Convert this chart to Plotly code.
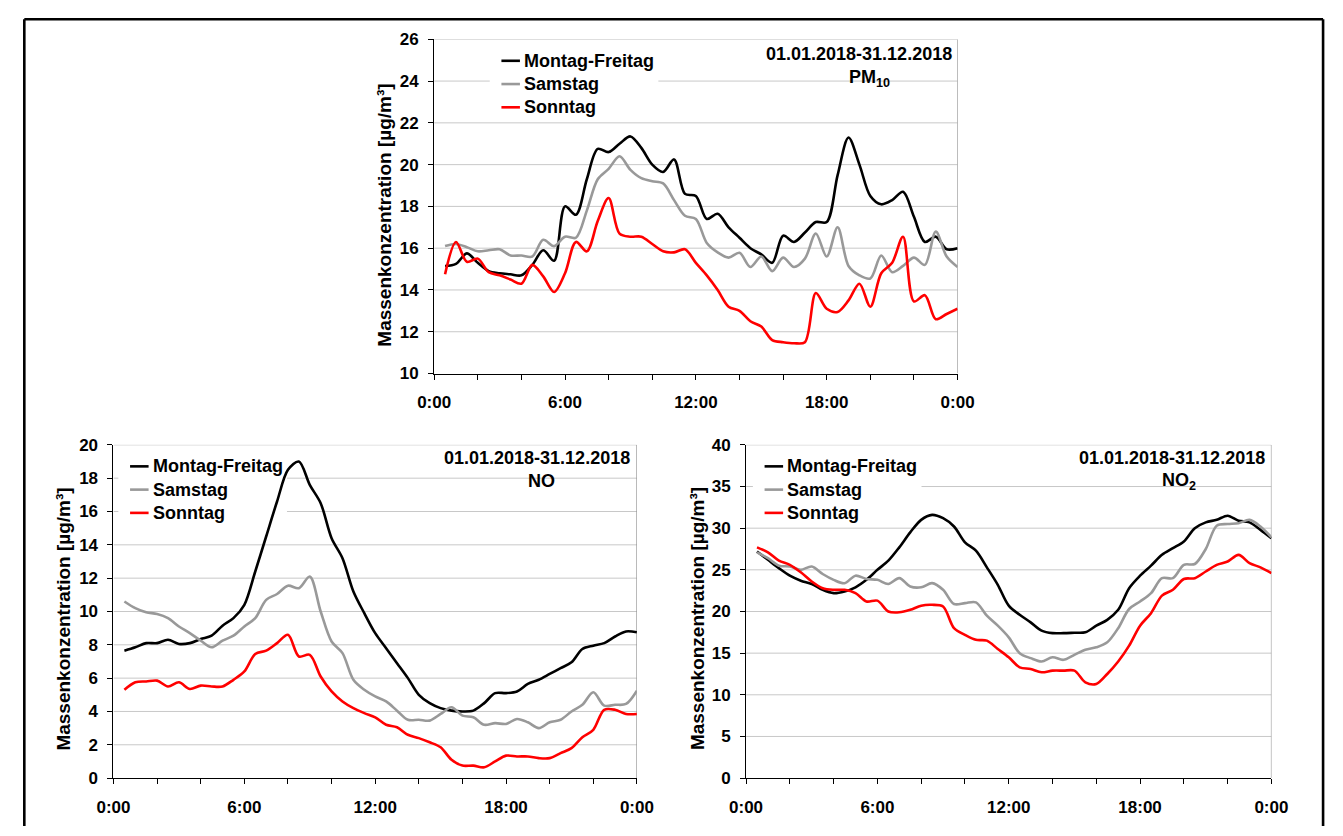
import plotly.graph_objects as go

# ---------------------------------------------------------------------------
# Mittlere Tagesgänge 2018 (halbstündliche Mittelwerte, 0:30 ... 24:00)
# ---------------------------------------------------------------------------
hours = [h / 2 for h in range(1, 49)]

pm10_mofr = [15.15, 15.25, 15.75, 15.3, 14.9, 14.8, 14.75, 14.7, 15.2, 15.9, 15.4, 18.0,
             17.6, 19.3, 20.75, 20.6, 21.0, 21.35, 20.8, 20.0, 19.65, 20.25, 18.6, 18.5,
             17.4, 17.65, 17.0, 16.5, 16.0, 15.7, 15.3, 16.6, 16.3, 16.75, 17.25, 17.25,
             19.5, 21.3, 20.0, 18.5, 18.1, 18.3, 18.7, 17.5, 16.3, 16.55, 15.95, 16.0]
pm10_sa = [16.1, 16.2, 16.05, 15.85, 15.9, 15.95, 15.65, 15.65, 15.6, 16.4, 16.1, 16.55,
           16.5, 17.8, 19.3, 19.8, 20.4, 19.75, 19.35, 19.2, 19.1, 18.3, 17.55, 17.4,
           16.25, 15.8, 15.55, 15.78, 15.1, 15.6, 14.9, 15.55, 15.1, 15.5, 16.7, 15.6,
           17.0, 15.15, 14.7, 14.55, 15.65, 14.85, 15.15, 15.55, 15.2, 16.8, 15.6, 15.1]
pm10_so = [14.75, 16.3, 15.35, 15.5, 14.85, 14.7, 14.5, 14.3, 15.2, 14.65, 13.9, 14.8,
           16.3, 15.85, 17.3, 18.4, 16.7, 16.55, 16.55, 16.2, 15.85, 15.8, 15.95, 15.3,
           14.7, 14.0, 13.2, 13.0, 12.5, 12.25, 11.6, 11.5, 11.45, 11.5, 13.85, 13.1,
           12.95, 13.5, 14.3, 13.2, 14.8, 15.3, 16.55, 13.45, 13.75, 12.6, 12.85, 13.1]

no_mofr = [7.65, 7.85, 8.1, 8.1, 8.3, 8.05, 8.1, 8.35, 8.55, 9.15, 9.6, 10.4,
           12.4, 14.5, 16.6, 18.5, 19.0, 17.6, 16.5, 14.4, 13.2, 11.2, 9.9, 8.7,
           7.8, 6.9, 6.0, 5.0, 4.5, 4.2, 4.05, 4.0, 4.05, 4.5, 5.1, 5.1,
           5.2, 5.65, 5.9, 6.25, 6.6, 6.95, 7.75, 7.95, 8.1, 8.5, 8.8, 8.75]
no_sa = [10.6, 10.2, 9.95, 9.85, 9.6, 9.1, 8.7, 8.25, 7.85, 8.25, 8.55, 9.1,
         9.6, 10.7, 11.05, 11.55, 11.4, 12.1, 10.0, 8.2, 7.5, 5.9, 5.3, 4.9,
         4.6, 4.05, 3.5, 3.5, 3.45, 3.85, 4.25, 3.75, 3.65, 3.2, 3.3, 3.25,
         3.55, 3.35, 3.0, 3.35, 3.5, 4.0, 4.4, 5.15, 4.35, 4.4, 4.45, 5.25]
no_so = [5.3, 5.75, 5.8, 5.85, 5.5, 5.75, 5.35, 5.55, 5.5, 5.5, 5.9, 6.4,
         7.45, 7.65, 8.1, 8.6, 7.3, 7.4, 6.1, 5.2, 4.6, 4.2, 3.9, 3.65,
         3.2, 3.05, 2.6, 2.4, 2.15, 1.85, 1.1, 0.75, 0.75, 0.65, 1.0, 1.35,
         1.3, 1.3, 1.2, 1.2, 1.5, 1.8, 2.45, 2.9, 4.1, 4.1, 3.85, 3.85]

no2_mofr = [27.2, 26.2, 25.2, 24.3, 23.7, 23.3, 22.6, 22.2, 22.4, 22.9, 23.8, 25.0,
            26.1, 27.7, 29.5, 31.0, 31.6, 31.2, 30.2, 28.3, 27.3, 25.3, 23.2, 20.7,
            19.6, 18.7, 17.7, 17.4, 17.4, 17.45, 17.5, 18.3, 19.0, 20.2, 22.8, 24.3,
            25.5, 26.8, 27.6, 28.4, 30.0, 30.7, 31.0, 31.5, 30.9, 30.7, 29.8, 28.8]
no2_sa = [27.1, 26.4, 25.5, 25.4, 25.0, 25.4, 24.5, 23.8, 23.4, 24.3, 23.9, 23.8,
          23.3, 24.0, 23.0, 22.9, 23.4, 22.6, 20.9, 21.0, 21.1, 19.5, 18.3, 16.9,
          15.0, 14.4, 14.0, 14.5, 14.2, 14.8, 15.4, 15.7, 16.3, 18.0, 20.3, 21.2,
          22.2, 24.0, 24.0, 25.6, 25.7, 27.5, 30.3, 30.5, 30.6, 31.0, 30.2, 28.9]
no2_so = [27.7, 27.1, 26.1, 25.6, 24.7, 23.6, 22.8, 22.6, 22.6, 22.2, 21.2, 21.3,
          20.0, 19.9, 20.2, 20.7, 20.8, 20.6, 18.0, 17.2, 16.6, 16.5, 15.5, 14.5,
          13.3, 13.1, 12.7, 12.9, 12.9, 12.9, 11.5, 11.3, 12.5, 14.0, 15.9, 18.3,
          19.8, 21.9, 22.6, 23.9, 24.0, 24.8, 25.6, 26.0, 26.8, 25.8, 25.3, 24.6]

series_names = ["Montag-Freitag", "Samstag", "Sonntag"]
series_colors = ["#000000", "#999999", "#ff0000"]

tick_hours = [0, 6, 12, 18, 24]
tick_text = ["0:00", "6:00", "12:00", "18:00", "0:00"]

period_text = "01.01.2018-31.12.2018"
y_title = "Massenkonzentration [µg/m³]"

# ---------------------------------------------------------------------------
W, H = 1343, 836
FONT = "Liberation Sans, Arial, Helvetica, sans-serif"
GRID = "#c8c8c8"


def fx(px):
    return px / W


def fy(py):
    return 1 - py / H


panels = [
    dict(label="PM<sub>10</sub>", data=(pm10_mofr, pm10_sa, pm10_so), yrange=(10, 26), dtick=2,
         box=(428, 965, 31, 373), title_x=377, title_y=211,
         legend=(497, 53), period=(961, 46), label_pos=(875, 71)),
    dict(label="NO", data=(no_mofr, no_sa, no_so), yrange=(0, 20), dtick=2,
         box=(99, 636, 446, 787), title_x=48, title_y=624,
         legend=(116, 468), period=(631, 459), label_pos=(538, 483)),
    dict(label="NO<sub>2</sub>", data=(no2_mofr, no2_sa, no2_so), yrange=(0, 40), dtick=5,
         box=(748, 1287, 446, 787), title_x=699, title_y=624,
         legend=(767, 468), period=(1282, 459), label_pos=(1192, 483)),
]

fig = go.Figure()
shapes = []
annotations = []
layout_axes = {}
bold = dict(family=FONT, color="black", weight="bold")

for i, p in enumerate(panels, start=1):
    sfx = "" if i == 1 else str(i)
    xname, yname = "x" + sfx, "y" + sfx
    x0, x1, y0, y1 = p["box"]
    ylo, yhi = p["yrange"]

    # pixel -> data conversion inside this panel
    def dx(px, x0=x0, x1=x1):
        return (px - x0) / (x1 - x0) * 24

    def dy(py, y0=y0, y1=y1, ylo=ylo, yhi=yhi):
        return ylo + (y1 - py) / (y1 - y0) * (yhi - ylo)

    for values, name, color in zip(p["data"], series_names, series_colors):
        fig.add_trace(go.Scatter(
            x=hours, y=values, name=name, mode="lines",
            line=dict(color=color, width=2.6, shape="spline", smoothing=0.9),
            xaxis=xname, yaxis=yname, showlegend=False, hoverinfo="skip",
        ))

    layout_axes["xaxis" + sfx] = dict(
        domain=[fx(x0), fx(x1)], anchor=yname, range=[0, 24],
        tickmode="array", tickvals=tick_hours, ticktext=tick_text,
        ticks="outside", ticklen=5, tickcolor="black", tickwidth=1,
        minor=dict(tickmode="linear", tick0=0, dtick=2, ticks="outside",
                   ticklen=5, tickcolor="black", tickwidth=1, showgrid=False),
        showline=True, linecolor="black", linewidth=1,
        showgrid=False, zeroline=False, fixedrange=True,
        tickfont=dict(size=17, **bold), ticklabelstandoff=8,
    )
    layout_axes["yaxis" + sfx] = dict(
        domain=[fy(y1), fy(y0)], anchor=xname, range=[ylo, yhi],
        tickmode="linear", tick0=ylo, dtick=p["dtick"],
        ticks="outside", ticklen=5, tickcolor="black", tickwidth=1,
        showline=True, linecolor="black", linewidth=1,
        showgrid=False, zeroline=False,
        fixedrange=True, tickfont=dict(size=17, **bold), ticklabelstandoff=6,
    )

    # horizontal gridlines (drawn beneath the curves)
    v = ylo + p["dtick"]
    while v <= yhi + 1e-9:
        shapes.append(dict(type="line", xref=xname, yref=yname, x0=0, x1=24, y0=v, y1=v,
                           layer="below", line=dict(color=GRID, width=1)))
        v += p["dtick"]

    # plot-area frame (right edge)
    shapes.append(dict(type="line", xref=xname, yref=yname, x0=24, x1=24, y0=ylo, y1=yhi,
                       layer="below", line=dict(color="#808080", width=1)))

    # legend block: white patch over the gridlines, beneath the curves
    lx, ly = p["legend"]
    shapes.append(dict(type="rect", xref=xname, yref=yname,
                       x0=dx(lx - 12), x1=dx(lx + 161), y0=dy(ly + 58), y1=dy(ly - 14),
                       line=dict(width=0), fillcolor="white", layer="below"))
    for k, (name, color) in enumerate(zip(series_names, series_colors)):
        yy = ly + k * 23.8
        shapes.append(dict(type="line", xref="paper", yref="paper",
                           x0=fx(lx), x1=fx(lx + 19), y0=fy(yy), y1=fy(yy),
                           line=dict(color=color, width=2.6), layer="above"))
        annotations.append(dict(text=name, xref="paper", yref="paper",
                                x=fx(lx + 21), y=fy(yy), xanchor="left", yanchor="middle",
                                showarrow=False, font=dict(size=18, **bold)))

    # period and component label
    px_, py_ = p["period"]
    annotations.append(dict(text=period_text, xref="paper", yref="paper",
                            x=fx(px_), y=fy(py_), xanchor="right", yanchor="middle",
                            showarrow=False, font=dict(size=18, **bold)))
    cx, cy = p["label_pos"]
    annotations.append(dict(text=p["label"], xref="paper", yref="paper",
                            x=fx(cx), y=fy(cy), xanchor="center", yanchor="middle",
                            showarrow=False, font=dict(size=18, **bold)))

    # y-axis title
    annotations.append(dict(text=y_title, xref="paper", yref="paper",
                            x=fx(p["title_x"]), y=fy(p["title_y"]), textangle=-90,
                            xanchor="center", yanchor="middle", showarrow=False,
                            font=dict(size=19, **bold)))

# outer frame: left, top and right edges, running to the bottom of the page
FL, FT, FR, FB = 7.5, 10.5, 1340, 836
for (ax, ay, bx, by) in [(FL, FB, FL, FT), (FL, FT, FR, FT), (FR, FT, FR, FB)]:
    shapes.append(dict(type="line", xref="paper", yref="paper",
                       x0=fx(ax), y0=fy(ay), x1=fx(bx), y1=fy(by),
                       line=dict(color="black", width=2.6), layer="above"))

fig.update_layout(
    width=W, height=H, margin=dict(l=0, r=0, t=0, b=0),
    paper_bgcolor="white", plot_bgcolor="white",
    showlegend=False, shapes=shapes, annotations=annotations,
    font=dict(family=FONT, color="black"),
    **layout_axes,
)

fig.write_html(
    "out.html",
    config=dict(displayModeBar=False, staticPlot=True),
    post_script="document.body.style.margin='0';document.body.style.overflow='hidden';",
)
